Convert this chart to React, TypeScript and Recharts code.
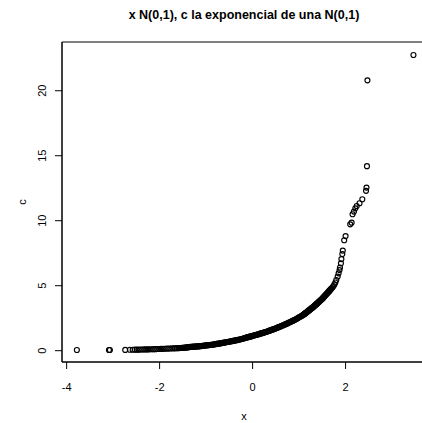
import { ScatterChart, Scatter, XAxis, YAxis, ReferenceArea, Label } from 'recharts'

// x: normal sample, c: exponential of a normal sample (sorted pairs)
const xs = [
  -3.78, -3.09, -3.07, -2.74, -2.64, -2.58, -2.53, -2.49, -2.45, -2.41,
  -2.37, -2.33, -2.29, -2.25, -2.21, -2.17, -2.13, -2.09, -2.05, -2.01,
  -1.97, -1.93, -1.89, -1.85, -1.81, -1.77, -1.73, -1.69, -1.66, -1.63,
  -1.60, -1.58, -1.56, -1.54, -1.52, -1.50, -1.48, -1.46, -1.44, -1.42,
  -1.40, -1.38, -1.36, -1.34, -1.32, -1.30, -1.28, -1.26, -1.24, -1.22,
  -1.20, -1.18, -1.16, -1.14, -1.12, -1.10, -1.08, -1.06, -1.04, -1.02,
  -1.00, -0.98, -0.96, -0.94, -0.92, -0.90, -0.88, -0.86, -0.84, -0.82,
  -0.80, -0.78, -0.76, -0.74, -0.72, -0.70, -0.68, -0.66, -0.64, -0.62,
  -0.60, -0.58, -0.56, -0.54, -0.52, -0.50, -0.48, -0.46, -0.44, -0.42,
  -0.40, -0.38, -0.36, -0.34, -0.32, -0.30, -0.28, -0.26, -0.24, -0.22,
  -0.20, -0.18, -0.16, -0.14, -0.12, -0.10, -0.08, -0.06, -0.04, -0.02,
  0.00, 0.02, 0.04, 0.06, 0.08, 0.10, 0.12, 0.14, 0.16, 0.18,
  0.20, 0.22, 0.24, 0.26, 0.28, 0.30, 0.32, 0.34, 0.36, 0.38,
  0.40, 0.42, 0.44, 0.46, 0.48, 0.50, 0.52, 0.54, 0.56, 0.58,
  0.60, 0.62, 0.64, 0.66, 0.68, 0.70, 0.72, 0.74, 0.76, 0.78,
  0.80, 0.82, 0.84, 0.86, 0.88, 0.90, 0.92, 0.94, 0.96, 0.98,
  1.00, 1.02, 1.04, 1.06, 1.08, 1.10, 1.11, 1.12, 1.13, 1.14,
  1.15, 1.16, 1.17, 1.18, 1.19, 1.20, 1.21, 1.22, 1.23, 1.24,
  1.25, 1.26, 1.27, 1.28, 1.29, 1.30, 1.31, 1.32, 1.33, 1.34,
  1.35, 1.36, 1.37, 1.38, 1.39, 1.40, 1.41, 1.42, 1.43, 1.44,
  1.45, 1.46, 1.47, 1.48, 1.49, 1.50, 1.51, 1.52, 1.53, 1.54,
  1.55, 1.56, 1.57, 1.58, 1.59, 1.60, 1.61, 1.62, 1.63, 1.64,
  1.65, 1.66, 1.67, 1.68, 1.69, 1.70, 1.72, 1.74, 1.76, 1.78,
  1.80, 1.83, 1.85, 1.87, 1.88, 1.90, 1.91, 1.93, 1.94, 1.97,
  2.00, 2.10, 2.13, 2.15, 2.18, 2.21, 2.24, 2.30, 2.36, 2.44,
  2.45, 2.46, 2.47, 3.46,
]

const cs = [
  0.05, 0.05, 0.05, 0.06, 0.07, 0.07, 0.08, 0.08, 0.08, 0.09,
  0.09, 0.10, 0.10, 0.10, 0.11, 0.11, 0.12, 0.12, 0.13, 0.13,
  0.14, 0.14, 0.15, 0.16, 0.16, 0.17, 0.18, 0.18, 0.19, 0.19,
  0.20, 0.20, 0.21, 0.21, 0.22, 0.22, 0.23, 0.24, 0.24, 0.25,
  0.26, 0.27, 0.28, 0.29, 0.29, 0.30, 0.31, 0.31, 0.32, 0.32,
  0.33, 0.33, 0.34, 0.35, 0.35, 0.36, 0.37, 0.38, 0.39, 0.40,
  0.41, 0.41, 0.42, 0.43, 0.44, 0.45, 0.46, 0.47, 0.48, 0.49,
  0.50, 0.52, 0.53, 0.54, 0.55, 0.56, 0.57, 0.59, 0.60, 0.62,
  0.63, 0.64, 0.66, 0.67, 0.69, 0.70, 0.71, 0.73, 0.74, 0.76,
  0.77, 0.78, 0.80, 0.81, 0.83, 0.84, 0.86, 0.88, 0.90, 0.92,
  0.94, 0.96, 0.98, 1.00, 1.02, 1.04, 1.06, 1.08, 1.10, 1.12,
  1.14, 1.16, 1.18, 1.20, 1.22, 1.24, 1.26, 1.28, 1.31, 1.33,
  1.35, 1.37, 1.39, 1.42, 1.44, 1.46, 1.49, 1.51, 1.54, 1.56,
  1.59, 1.62, 1.64, 1.67, 1.69, 1.72, 1.75, 1.78, 1.81, 1.84,
  1.87, 1.90, 1.93, 1.96, 1.99, 2.02, 2.05, 2.09, 2.12, 2.16,
  2.19, 2.22, 2.26, 2.29, 2.33, 2.36, 2.40, 2.44, 2.48, 2.53,
  2.57, 2.61, 2.65, 2.69, 2.74, 2.78, 2.81, 2.84, 2.87, 2.89,
  2.92, 2.95, 2.98, 3.01, 3.04, 3.07, 3.10, 3.12, 3.15, 3.18,
  3.21, 3.24, 3.27, 3.29, 3.32, 3.35, 3.38, 3.41, 3.45, 3.48,
  3.51, 3.54, 3.58, 3.61, 3.64, 3.67, 3.71, 3.74, 3.77, 3.80,
  3.84, 3.87, 3.90, 3.93, 3.97, 4.00, 4.04, 4.08, 4.12, 4.16,
  4.20, 4.24, 4.28, 4.32, 4.36, 4.40, 4.44, 4.48, 4.52, 4.56,
  4.60, 4.64, 4.68, 4.72, 4.76, 4.80, 4.88, 4.98, 5.10, 5.25,
  5.44, 5.70, 5.95, 6.20, 6.40, 6.72, 7.05, 7.44, 7.70, 8.50,
  8.82, 9.72, 9.85, 10.50, 10.70, 10.95, 11.13, 11.34, 11.65, 12.30,
  12.55, 14.20, 20.80, 22.75,
]

const xTicks = [-4, -2, 0, 2]
const cTicks = [0, 5, 10, 15, 20]

const points = xs.map((x, i) => ({ x, c: cs[i] }))

const FONT = '"Liberation Sans", Arial, Helvetica, sans-serif'

function Ring(props: any) {
  return <circle cx={props.cx} cy={props.cy} r={2.5} fill="none" stroke="#000" strokeWidth={1.15} />
}

function YTick(props: any) {
  const { x, y, payload } = props
  return (
    <text
      x={x}
      y={y}
      transform={`rotate(-90, ${x}, ${y})`}
      textAnchor="middle"
      dy="0.35em"
      fontSize={11}
      fontFamily={FONT}
      fill="#000"
    >
      {payload.value}
    </text>
  )
}

function YLabel(props: any) {
  const vb = props.viewBox
  const x = vb.x + 22
  const y = vb.y + vb.height / 2
  return (
    <text x={x} y={y} transform={`rotate(-90, ${x}, ${y})`} textAnchor="middle" dy="0.35em" fontSize={11} fontFamily={FONT} fill="#000">
      c
    </text>
  )
}

export default function App() {
  return (
    <div style={{ position: 'absolute', left: 0, top: 0, width: 422, height: 423, overflow: 'hidden', background: '#fff' }}>
      <div
        style={{
          position: 'absolute',
          left: 62,
          width: 364,
          top: 7,
          lineHeight: '16px',
          textAlign: 'center',
          fontFamily: FONT,
          fontWeight: 'bold',
          fontSize: 12.5,
          color: '#000',
        }}
      >
        x N(0,1), c la exponencial de una N(0,1)
      </div>
      <ScatterChart width={440} height={423} margin={{ top: 42, right: 14, bottom: 0, left: 0 }}>
        <XAxis
          type="number"
          dataKey="x"
          domain={[-4.1, 3.73]}
          ticks={xTicks}
          height={61}
          tickSize={7}
          tickMargin={14}
          axisLine={{ stroke: '#000' }}
          tickLine={{ stroke: '#000' }}
          tick={{ fontSize: 11, fill: '#000', fontFamily: FONT }}
          allowDataOverflow
        >
          <Label value="x" position="insideBottom" offset={3.5} style={{ fontSize: 11, fill: '#000', fontFamily: FONT }} />
        </XAxis>
        <YAxis
          type="number"
          dataKey="c"
          domain={[-0.87, 23.75]}
          ticks={cTicks}
          width={62}
          tickSize={7}
          tickMargin={13}
          axisLine={{ stroke: '#000' }}
          tickLine={{ stroke: '#000' }}
          tick={<YTick />}
          allowDataOverflow
        >
          <Label content={<YLabel />} />
        </YAxis>
        <ReferenceArea x1={-4.1} x2={3.73} y1={-0.87} y2={23.75} fill="none" stroke="#000" strokeWidth={1} />
        <Scatter data={points} shape={Ring} isAnimationActive={false} />
      </ScatterChart>
    </div>
  )
}
